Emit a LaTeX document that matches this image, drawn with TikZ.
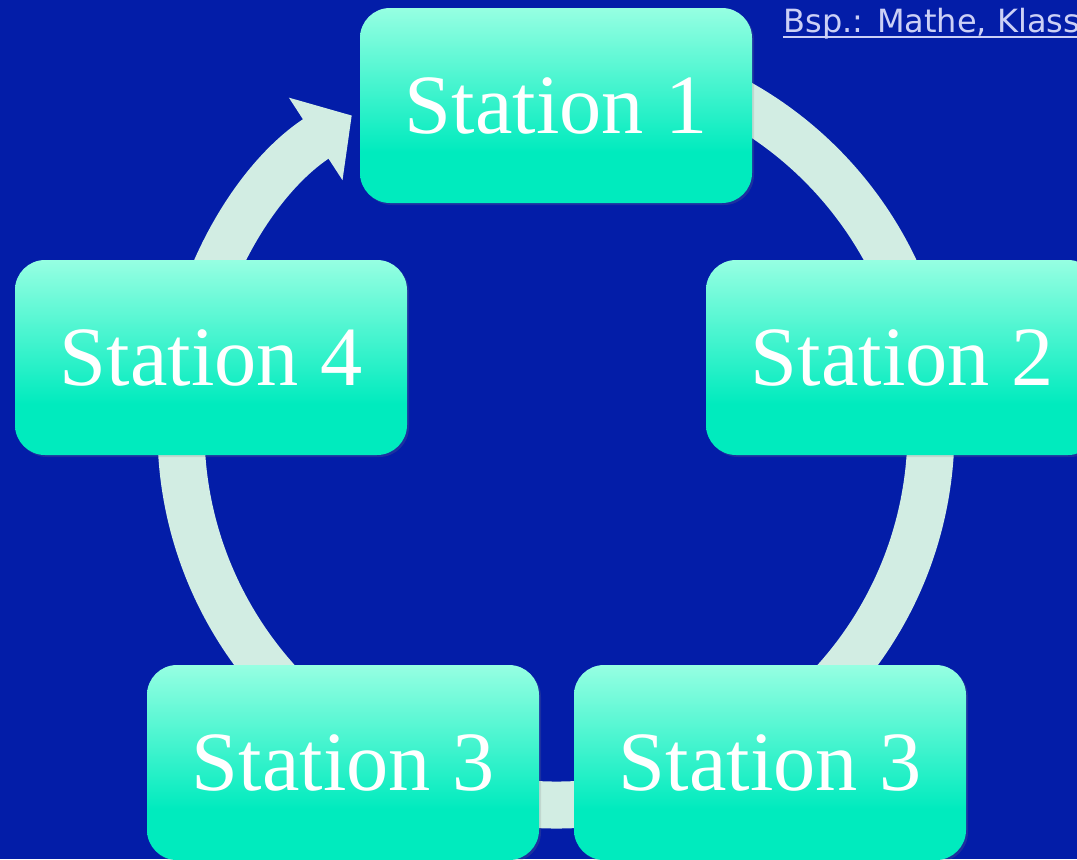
\documentclass[tikz,border=0pt]{standalone}
\usepackage{fontspec}
\setmainfont{Liberation Serif}
\newfontfamily\bspfont{DejaVu Sans}
\usetikzlibrary{arrows.meta,shadows}
\definecolor{bgblue}{RGB}{3,29,168}
\definecolor{ringmint}{RGB}{210,237,227}
\definecolor{boxtop}{RGB}{150,255,226}
\definecolor{boxbot}{RGB}{0,235,190}
\definecolor{linkblue}{RGB}{204,208,246}
\pgfdeclareverticalshading{stationshade}{100bp}{color(0bp)=(boxbot); color(25bp)=(boxbot);
    color(38bp)=(boxbot); color(75bp)=(boxtop); color(100bp)=(boxtop)}
\tikzset{
  stationbox/.style={rounded corners=0.3cm, minimum width=3.92cm, minimum height=1.95cm,
    inner sep=0pt, shading=stationshade, text=white,
    font=\fontsize{24}{28}\selectfont,
    drop shadow={opacity=0.2, shadow xshift=0.02cm, shadow yshift=-0.02cm}},
  ring/.style={ringmint, line width=0.47cm, -{Triangle[length=0.43cm, width=0.96cm]}}
}
\begin{document}
\begin{tikzpicture}
    \fill[bgblue] (0,0) rectangle (10.77,8.59);
    \useasboundingbox (0,0) rectangle (10.77,8.59);
    \def\cx{5.56}
    \def\cy{4.29}
    \def\r{3.75}
    % cycle
    \draw[ring] (\cx,\cy) ++(85:\r) arc[start angle=85, end angle=-237, radius=\r];
    % stations
    \foreach \n/\x/\y/\t in {s1/5.56/7.535/1, s2/9.02/5.015/2, s4/2.11/5.015/4,
                             s3a/3.43/0.965/3, s3b/7.70/0.965/3}
        \node[stationbox] (\n) at (\x,\y) {\raisebox{-0.04cm}{Station \t}};
    % example note
    \node[anchor=base west, inner sep=0pt, text=linkblue, font=\bspfont\fontsize{9.1}{11}\selectfont]
        (bsp) at (7.83,8.27) {Bsp.: Mathe, Klass};
    \draw[linkblue, line width=0.02cm] ([yshift=-0.05cm]bsp.base west) -- ([yshift=-0.05cm]bsp.base east);
\end{tikzpicture}
\end{document}
